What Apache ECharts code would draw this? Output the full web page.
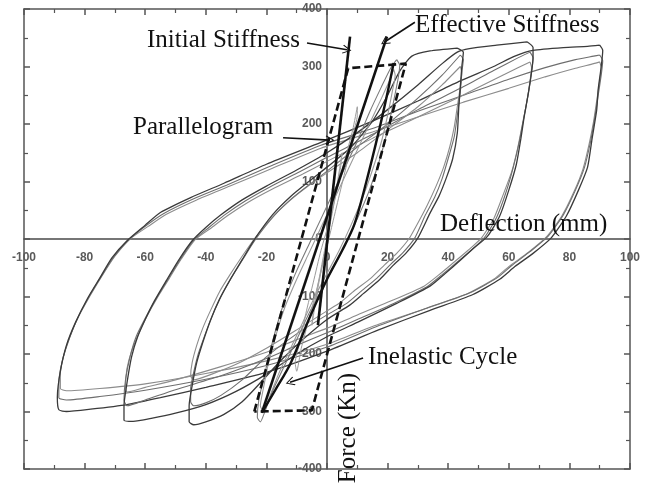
<!DOCTYPE html>
<html><head><meta charset="utf-8">
<script src="https://cdn.jsdelivr.net/npm/echarts@6/dist/echarts.min.js"></script>
<style>html,body{margin:0;padding:0;background:#fff}#c{width:647px;height:486px}</style>
</head><body><div id="c"></div>
<script>
// ---- data (deflection mm, force kN) ----
const loop88a = [[90,337],[91,328],[90.5,300],[89.5,260],[89,224],[87.5,175],[86,125],[83,85],[79,40],[74,2],[68,-25],[62,-48],[57,-70],[48,-97],[34,-124],[17,-158],[0,-195],[-20,-232],[-40,-258],[-55,-276],[-66,-288],[-78,-296],[-86,-300],[-88.5,-297],[-89,-275],[-88,-230],[-86,-185],[-83,-145],[-79,-103],[-75,-68],[-71,-33],[-66,-3],[-60,24],[-55,46],[-45,72],[-34,97],[-20,130],[-2,168],[15,205],[30,240],[44,275],[55,300],[62,318],[68,328],[78,333],[86,335],[90,337]];
const loop88b = [[90,320],[91,310],[90.5,285],[89.5,250],[88.5,215],[87,170],[85,125],[82,85],[78,42],[73,5],[67,-22],[61,-46],[56,-68],[47,-94],[33,-120],[16,-153],[0,-188],[-20,-220],[-40,-244],[-60,-263],[-75,-274],[-86,-280],[-88.5,-276],[-88.5,-250],[-87.5,-215],[-85.5,-180],[-82.5,-140],[-78.5,-100],[-74.5,-65],[-70.5,-32],[-65.5,-2],[-60,22],[-54,44],[-44,70],[-33,94],[-19,126],[-2,163],[15,192],[30,222],[45,250],[60,278],[72,298],[82,312],[88,318],[90,320]];
const loop88c = [[90,308],[90.5,298],[90,275],[89,240],[88,205],[86.5,165],[84.5,122],[81.5,82],[77.5,40],[72.5,4],[66.5,-23],[60,-48],[55,-70],[46,-96],[32,-122],[15,-152],[0,-183],[-20,-212],[-40,-234],[-60,-252],[-75,-260],[-86,-264],[-88,-260],[-88,-235],[-87,-205],[-85,-172],[-82,-135],[-78,-97],[-74,-62],[-70,-30],[-65,0],[-59,22],[-53,43],[-43,68],[-32,92],[-18,123],[-2,158],[15,186],[30,212],[45,238],[60,262],[72,282],[82,297],[88,305],[90,308]];
const loop66a = [[66,343],[68,333],[68,315],[67.5,290],[66.5,255],[65,210],[64,175],[62.5,130],[60,85],[57,40],[53,5],[48,-18],[44,-37],[39,-60],[34,-82],[23,-112],[10,-145],[0,-170],[-10,-200],[-20,-235],[-30,-265],[-40,-288],[-50,-303],[-58,-312],[-64,-317],[-67,-315],[-67,-290],[-66,-250],[-64.5,-205],[-62.5,-170],[-60,-140],[-57,-108],[-53,-72],[-49,-37],[-44.5,-3],[-40,20],[-35,42],[-28,68],[-20,92],[-10,120],[0,150],[10,185],[20,225],[30,268],[38,305],[43,325],[47,331],[56,337],[66,343]];
const loop66b = [[67,325],[68,315],[67.5,290],[66.5,255],[65,212],[63.5,170],[61.5,125],[59,80],[56,38],[52,3],[47.5,-20],[43,-40],[38,-62],[33,-83],[22,-112],[10,-140],[0,-163],[-10,-185],[-20,-208],[-35,-238],[-50,-262],[-60,-280],[-66,-290],[-67,-280],[-66.5,-245],[-65,-205],[-63,-170],[-60,-138],[-56.5,-105],[-52.5,-70],[-48.5,-36],[-44,-2],[-39,20],[-34,41],[-27,66],[-19,90],[-9,117],[0,142],[15,182],[30,225],[44,262],[55,293],[63,315],[67,325]];
const loop66c = [[67,308],[67.5,298],[67,275],[66,240],[64.5,200],[63,160],[61,118],[58,75],[55,35],[51,2],[46.5,-20],[42,-40],[37,-62],[32,-82],[21,-108],[10,-132],[0,-155],[-10,-175],[-20,-197],[-35,-222],[-50,-245],[-60,-258],[-66,-266],[-66.5,-255],[-66,-225],[-64.5,-195],[-62,-163],[-59.5,-135],[-56,-102],[-52,-68],[-48,-34],[-43.5,-1],[-38,20],[-33,40],[-26,64],[-18,87],[-8,113],[0,135],[15,175],[30,212],[44,248],[55,277],[63,298],[67,308]];
const loop44a = [[43,332],[45,325],[44.5,300],[44,265],[43.5,230],[43,184],[41.5,140],[39.5,108],[37,75],[34,45],[30,2],[26,-25],[22,-45],[17.5,-70],[12,-95],[7.5,-115],[0,-140],[-8,-175],[-15,-210],[-22,-250],[-28,-283],[-34,-305],[-40,-318],[-44,-323],[-45.5,-318],[-45.5,-290],[-44.5,-255],[-43,-215],[-41,-180],[-38.5,-142],[-35.5,-105],[-32,-71],[-28,-36],[-24,-1],[-18,42],[-12,74],[-6,100],[0,125],[8,160],[15,205],[20,250],[24,292],[28,318],[34,327],[43,332]];
const loop44b = [[44,320],[45,312],[44.5,290],[44,255],[43,215],[42,178],[40,140],[38,105],[35.5,72],[32.5,42],[29,2],[25,-24],[21,-44],[16.5,-68],[11,-92],[6.5,-112],[0,-132],[-10,-165],[-20,-205],[-28,-245],[-35,-272],[-40,-285],[-44,-290],[-45,-283],[-45,-260],[-44,-232],[-42.5,-200],[-40.5,-170],[-38,-135],[-35,-100],[-31.5,-67],[-27.5,-33],[-23.5,0],[-17.5,40],[-11.5,71],[-5.5,96],[0,118],[10,160],[20,200],[30,245],[38,285],[44,320]];
const loop44c = [[44,300],[44.5,290],[44,265],[43,230],[42,195],[40.5,160],[38.5,125],[36,92],[33,58],[30,28],[27,0],[23,-25],[19,-45],[14.5,-68],[9,-90],[4.5,-110],[0,-125],[-10,-158],[-20,-190],[-30,-218],[-38,-235],[-44,-245],[-45,-238],[-44.5,-215],[-43,-185],[-41,-155],[-38.5,-125],[-35.5,-92],[-32,-62],[-28,-30],[-24,0],[-18,38],[-12,68],[-6,93],[0,115],[10,150],[20,190],[30,230],[38,268],[44,300]];
const loop22a = [[23,312],[24,302],[23.5,280],[22,240],[20,190],[17.5,140],[14,85],[10,35],[6,-10],[2,-50],[-2,-90],[-6,-130],[-10,-175],[-14,-220],[-18,-265],[-20.5,-300],[-22,-318],[-23,-310],[-22.5,-280],[-21,-245],[-19,-200],[-16.5,-150],[-13.5,-100],[-10,-55],[-6,-10],[-2,35],[2,80],[6,125],[10,170],[14,220],[18,265],[21,297],[23,312]];
const loop22b = [[22,295],[22.5,285],[21.5,255],[20,215],[18,170],[15,120],[12,75],[8,25],[4,-20],[0,-60],[-4,-100],[-8,-145],[-12,-190],[-16,-235],[-19,-275],[-21,-300],[-22,-290],[-21,-260],[-19.5,-220],[-17,-170],[-14,-120],[-10,-70],[-6,-25],[-2,20],[2,65],[6,110],[10,155],[14,200],[18,245],[21,280],[22,295]];
const loop10 = [[10,230],[10,215],[8.5,180],[6.5,130],[4,75],[1.5,20],[-1,-35],[-3.5,-90],[-6,-140],[-8.5,-190],[-10,-230],[-10.5,-215],[-9,-180],[-7,-130],[-4.5,-75],[-2,-20],[1,35],[3.5,90],[6,140],[8.5,190],[10,230]];
const loop5 = [[5,150],[4.5,125],[3,80],[1,25],[-1,-30],[-3,-85],[-5,-150],[-4.5,-125],[-3,-80],[-1,-25],[1,30],[3,85],[5,150]];
const initialStiffness = [[-3,-150],[7.6,352]];
const effectiveStiffness = [[-21.5,-302],[19.8,352]];
const parallelogram = [[-24,-300],[7,297],[26,305],[-5,-298],[-24,-300]];
const inelasticCycle = [[-21.5,-302],[-17,-262],[-12,-216],[-6,-140],[0,-70],[5,-20],[9,25],[13,100],[17,185],[20,255],[22,306]];
const arrows = [
  [[-6.6,341],[6.6,329]],
  [[29,377],[19.1,343]],
  [[-14.5,176],[1,172]],
  [[11.9,-207],[-12.2,-249]]
];
const annotations = ['Initial Stiffness','Effective Stiffness','Parallelogram','Deflection (mm)','Inelastic Cycle','Force (Kn)'];

// ---- chart ----
const chart = echarts.init(document.getElementById('c'), null, {renderer:'canvas'});
const gridBox = {left:24, right:17, top:9, bottom:17, containLabel:false, outerBoundsMode:'none'};
const frameLine = {color:'#555', width:1.5};
const frameX = pos => ({gridIndex:1, type:'value', position:pos, min:-100, max:100, interval:20,
  axisLine:{show:true, onZero:false, lineStyle:frameLine},
  axisTick:{show:true, inside:true, length:6, lineStyle:{color:'#555', width:1.5}},
  minorTick:{show:true, splitNumber:2, length:4, lineStyle:{color:'#555', width:1.2}},
  axisLabel:{show:false}, splitLine:{show:false}});
const frameY = pos => ({gridIndex:1, type:'value', position:pos, min:-400, max:400, interval:100,
  axisLine:{show:true, onZero:false, lineStyle:frameLine},
  axisTick:{show:true, inside:true, length:6, lineStyle:{color:'#555', width:1.5}},
  minorTick:{show:true, splitNumber:2, length:4, lineStyle:{color:'#555', width:1.2}},
  axisLabel:{show:false}, splitLine:{show:false}});
const labelStyle = {color:'#5a5a5a', fontWeight:'bold', fontSize:12, fontFamily:'Liberation Sans'};

function curve(data, color, width, dash, z){
  return {type:'line', xAxisIndex:0, yAxisIndex:0, data, showSymbol:false, symbol:'none',
    smooth:0.2, silent:true, z:z||2, lineStyle:{color, width, type:dash||'solid'}};
}
const series = [
  curve(loop88c,'#8c8c8c',1.1), curve(loop88b,'#6e6e6e',1.1), curve(loop88a,'#3a3a3a',1.3),
  curve(loop66c,'#8c8c8c',1.1), curve(loop66b,'#6e6e6e',1.1), curve(loop66a,'#3a3a3a',1.3),
  curve(loop44c,'#8c8c8c',1.1), curve(loop44b,'#6e6e6e',1.1), curve(loop44a,'#3a3a3a',1.3),
  curve(loop22b,'#9a9a9a',1.1), curve(loop22a,'#7a7a7a',1.1),
  curve(loop10,'#9a9a9a',1.0), curve(loop5,'#a0a0a0',1.0),
  {type:'line', data:initialStiffness, showSymbol:false, symbol:'none', silent:true, z:4, lineStyle:{color:'#111', width:2.6}},
  {type:'line', data:effectiveStiffness, showSymbol:false, symbol:'none', silent:true, z:4, lineStyle:{color:'#111', width:2.6}},
  {type:'line', data:inelasticCycle, showSymbol:false, symbol:'none', smooth:0.3, silent:true, z:4, lineStyle:{color:'#111', width:2.4}},
  {type:'line', data:parallelogram, showSymbol:false, symbol:'none', silent:true, z:4, lineStyle:{color:'#111', width:2.6, type:[8,4]}},
  {type:'lines', coordinateSystem:'cartesian2d', xAxisIndex:0, yAxisIndex:0, silent:true, z:5,
   symbol:['none','path://M0,0 L10,14 L8.2,15.2 L0,3.2 L-8.2,15.2 L-10,14 Z'], symbolSize:[10,9],
   lineStyle:{color:'#111', width:1.6, opacity:1, curveness:0},
   data: arrows.map(c => ({coords:c}))}
];
const FONT = '25px "Liberation Serif"';
const txt = (t, x, y) => ({type:'text', x, y, z:10, silent:true,
  style:{text:t, font:FONT, fill:'#111', verticalAlign:'middle', align:'left'}});
chart.setOption({
  animation:false,
  backgroundColor:'#fff',
  grid:[Object.assign({}, gridBox), Object.assign({}, gridBox)],
  xAxis:[
    {gridIndex:0, type:'value', position:'bottom', offset:-230, min:-100, max:100, interval:20,
     axisLine:{onZero:false, lineStyle:{color:'#4a4a4a', width:1.5}}, axisTick:{show:false},
     axisLabel:Object.assign({margin:13}, labelStyle), splitLine:{show:false}},
    frameX('bottom'), frameX('top')
  ],
  yAxis:[
    {gridIndex:0, type:'value', position:'left', offset:-303, min:-400, max:400, interval:100,
     axisLine:{onZero:false, lineStyle:{color:'#4a4a4a', width:1.5}}, axisTick:{show:false},
     axisLabel:Object.assign({margin:5}, labelStyle), splitLine:{show:false}},
    frameY('left'), frameY('right')
  ],
  series,
  graphic:[
    txt(annotations[0],147,40),
    txt(annotations[1],415,25),
    txt(annotations[2],133,127),
    txt(annotations[3],440,224),
    txt(annotations[4],368,357),
    {type:'text', x:348, y:428, rotation:Math.PI/2, z:10, silent:true,
     style:{text:annotations[5], font:FONT, fill:'#111', verticalAlign:'middle', align:'center'}}
  ]
});
</script></body></html>
